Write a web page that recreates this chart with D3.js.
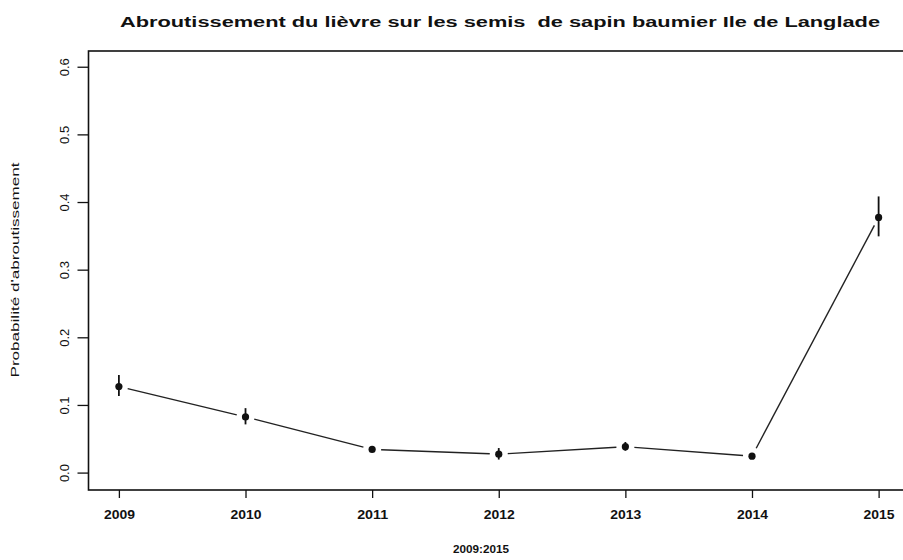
<!DOCTYPE html>
<html><head><meta charset="utf-8">
<script src="https://cdn.jsdelivr.net/npm/d3@7"></script>
<style>body{margin:0;background:#fff}svg{display:block}text{font-family:"Liberation Sans",Arial,sans-serif;fill:#111;white-space:pre}</style>
</head><body>
<script>
const years = [2009, 2010, 2011, 2012, 2013, 2014, 2015];
const prob  = [0.128, 0.083, 0.035, 0.028, 0.039, 0.025, 0.378];
const lower = [0.114, 0.072, 0.031, 0.020, 0.033, 0.022, 0.350];
const upper = [0.145, 0.096, 0.039, 0.037, 0.046, 0.028, 0.409];
const yTicks = [0, 0.1, 0.2, 0.3, 0.4, 0.5, 0.6];
const titleText = "Abroutissement du lièvre sur les semis  de sapin baumier Ile de Langlade";
const xLabel = "2009:2015";
const yLabel = "Probabilité d'abroutissement";

const W = 903, H = 560;
const svg = d3.select("body").append("svg").attr("width", W).attr("height", H);
const x = d3.scaleLinear().domain([2008.76, 2015.24]).range([88.5, 909]);
const y = d3.scaleLinear().domain([-0.025, 0.624]).range([490, 51]);

// box
svg.append("rect").attr("x", x.range()[0]).attr("y", 51).attr("width", x.range()[1] - x.range()[0]).attr("height", 439)
  .attr("fill", "none").attr("stroke", "#111").attr("stroke-width", 1.6);

// axes
const xAxis = svg.append("g").attr("transform", "translate(0,490)")
  .call(d3.axisBottom(x).tickValues(years).tickFormat(d3.format("d")).tickSize(8).tickPadding(12));
xAxis.select(".domain").remove();
xAxis.selectAll("line").attr("stroke", "#111").attr("stroke-width", 1.3);
xAxis.selectAll("text").attr("font-size", 12.5).attr("font-weight", "bold").attr("fill", "#111")
  .attr("textLength", 31).attr("lengthAdjust", "spacingAndGlyphs");

const yAxis = svg.append("g").attr("transform", "translate(88.5,0)")
  .call(d3.axisLeft(y).tickValues(yTicks).tickFormat(d3.format(".1f")).tickSize(11).tickPadding(0));
yAxis.select(".domain").remove();
yAxis.selectAll("line").attr("stroke", "#111").attr("stroke-width", 1.3);
yAxis.selectAll("text").attr("font-size", 13).attr("fill", "#111")
  .attr("text-anchor", "middle").attr("x", null)
  .attr("transform", d => `translate(-24,${y(d)}) rotate(-90)`)
  .attr("y", 0).attr("dy", "0.35em");
yAxis.selectAll(".tick").attr("transform", null);
yAxis.selectAll(".tick line").attr("y1", d => y(d)).attr("y2", d => y(d)).attr("x2", -11);

// title & labels
svg.append("text").attr("x", 500).attr("y", 27).attr("text-anchor", "middle")
  .attr("font-size", 14.5).attr("font-weight", "bold").attr("textLength", 760).attr("lengthAdjust", "spacingAndGlyphs")
  .text(titleText);
svg.append("text").attr("x", 481).attr("y", 553).attr("text-anchor", "middle")
  .attr("font-size", 11.5).attr("font-weight", "bold").attr("textLength", 56).attr("lengthAdjust", "spacingAndGlyphs")
  .text(xLabel);
svg.append("text").attr("transform", "translate(19,270) rotate(-90)").attr("text-anchor", "middle")
  .attr("font-size", 11).attr("textLength", 215).attr("lengthAdjust", "spacingAndGlyphs")
  .text(yLabel);

// line segments with gaps (type="b")
const pts = years.map((yr, i) => [x(yr), y(prob[i])]);
const gap = 9;
const segs = [];
for (let i = 0; i < pts.length - 1; i++) {
  const [x1, y1] = pts[i], [x2, y2] = pts[i + 1];
  const L = Math.hypot(x2 - x1, y2 - y1);
  const ux = (x2 - x1) / L, uy = (y2 - y1) / L;
  segs.push([x1 + ux * gap, y1 + uy * gap, x2 - ux * gap, y2 - uy * gap]);
}
svg.append("g").selectAll("line").data(segs).join("line")
  .attr("x1", d => d[0]).attr("y1", d => d[1]).attr("x2", d => d[2]).attr("y2", d => d[3])
  .attr("stroke", "#222").attr("stroke-width", 1.4);

// error bars
svg.append("g").selectAll("line").data(years).join("line")
  .attr("x1", d => x(d)).attr("x2", d => x(d))
  .attr("y1", (d, i) => y(lower[i])).attr("y2", (d, i) => y(upper[i]))
  .attr("stroke", "#111").attr("stroke-width", 1.8);

// points
svg.append("g").selectAll("circle").data(years).join("circle")
  .attr("cx", d => x(d)).attr("cy", (d, i) => y(prob[i])).attr("r", 3.6).attr("fill", "#111");
</script>
</body></html>
